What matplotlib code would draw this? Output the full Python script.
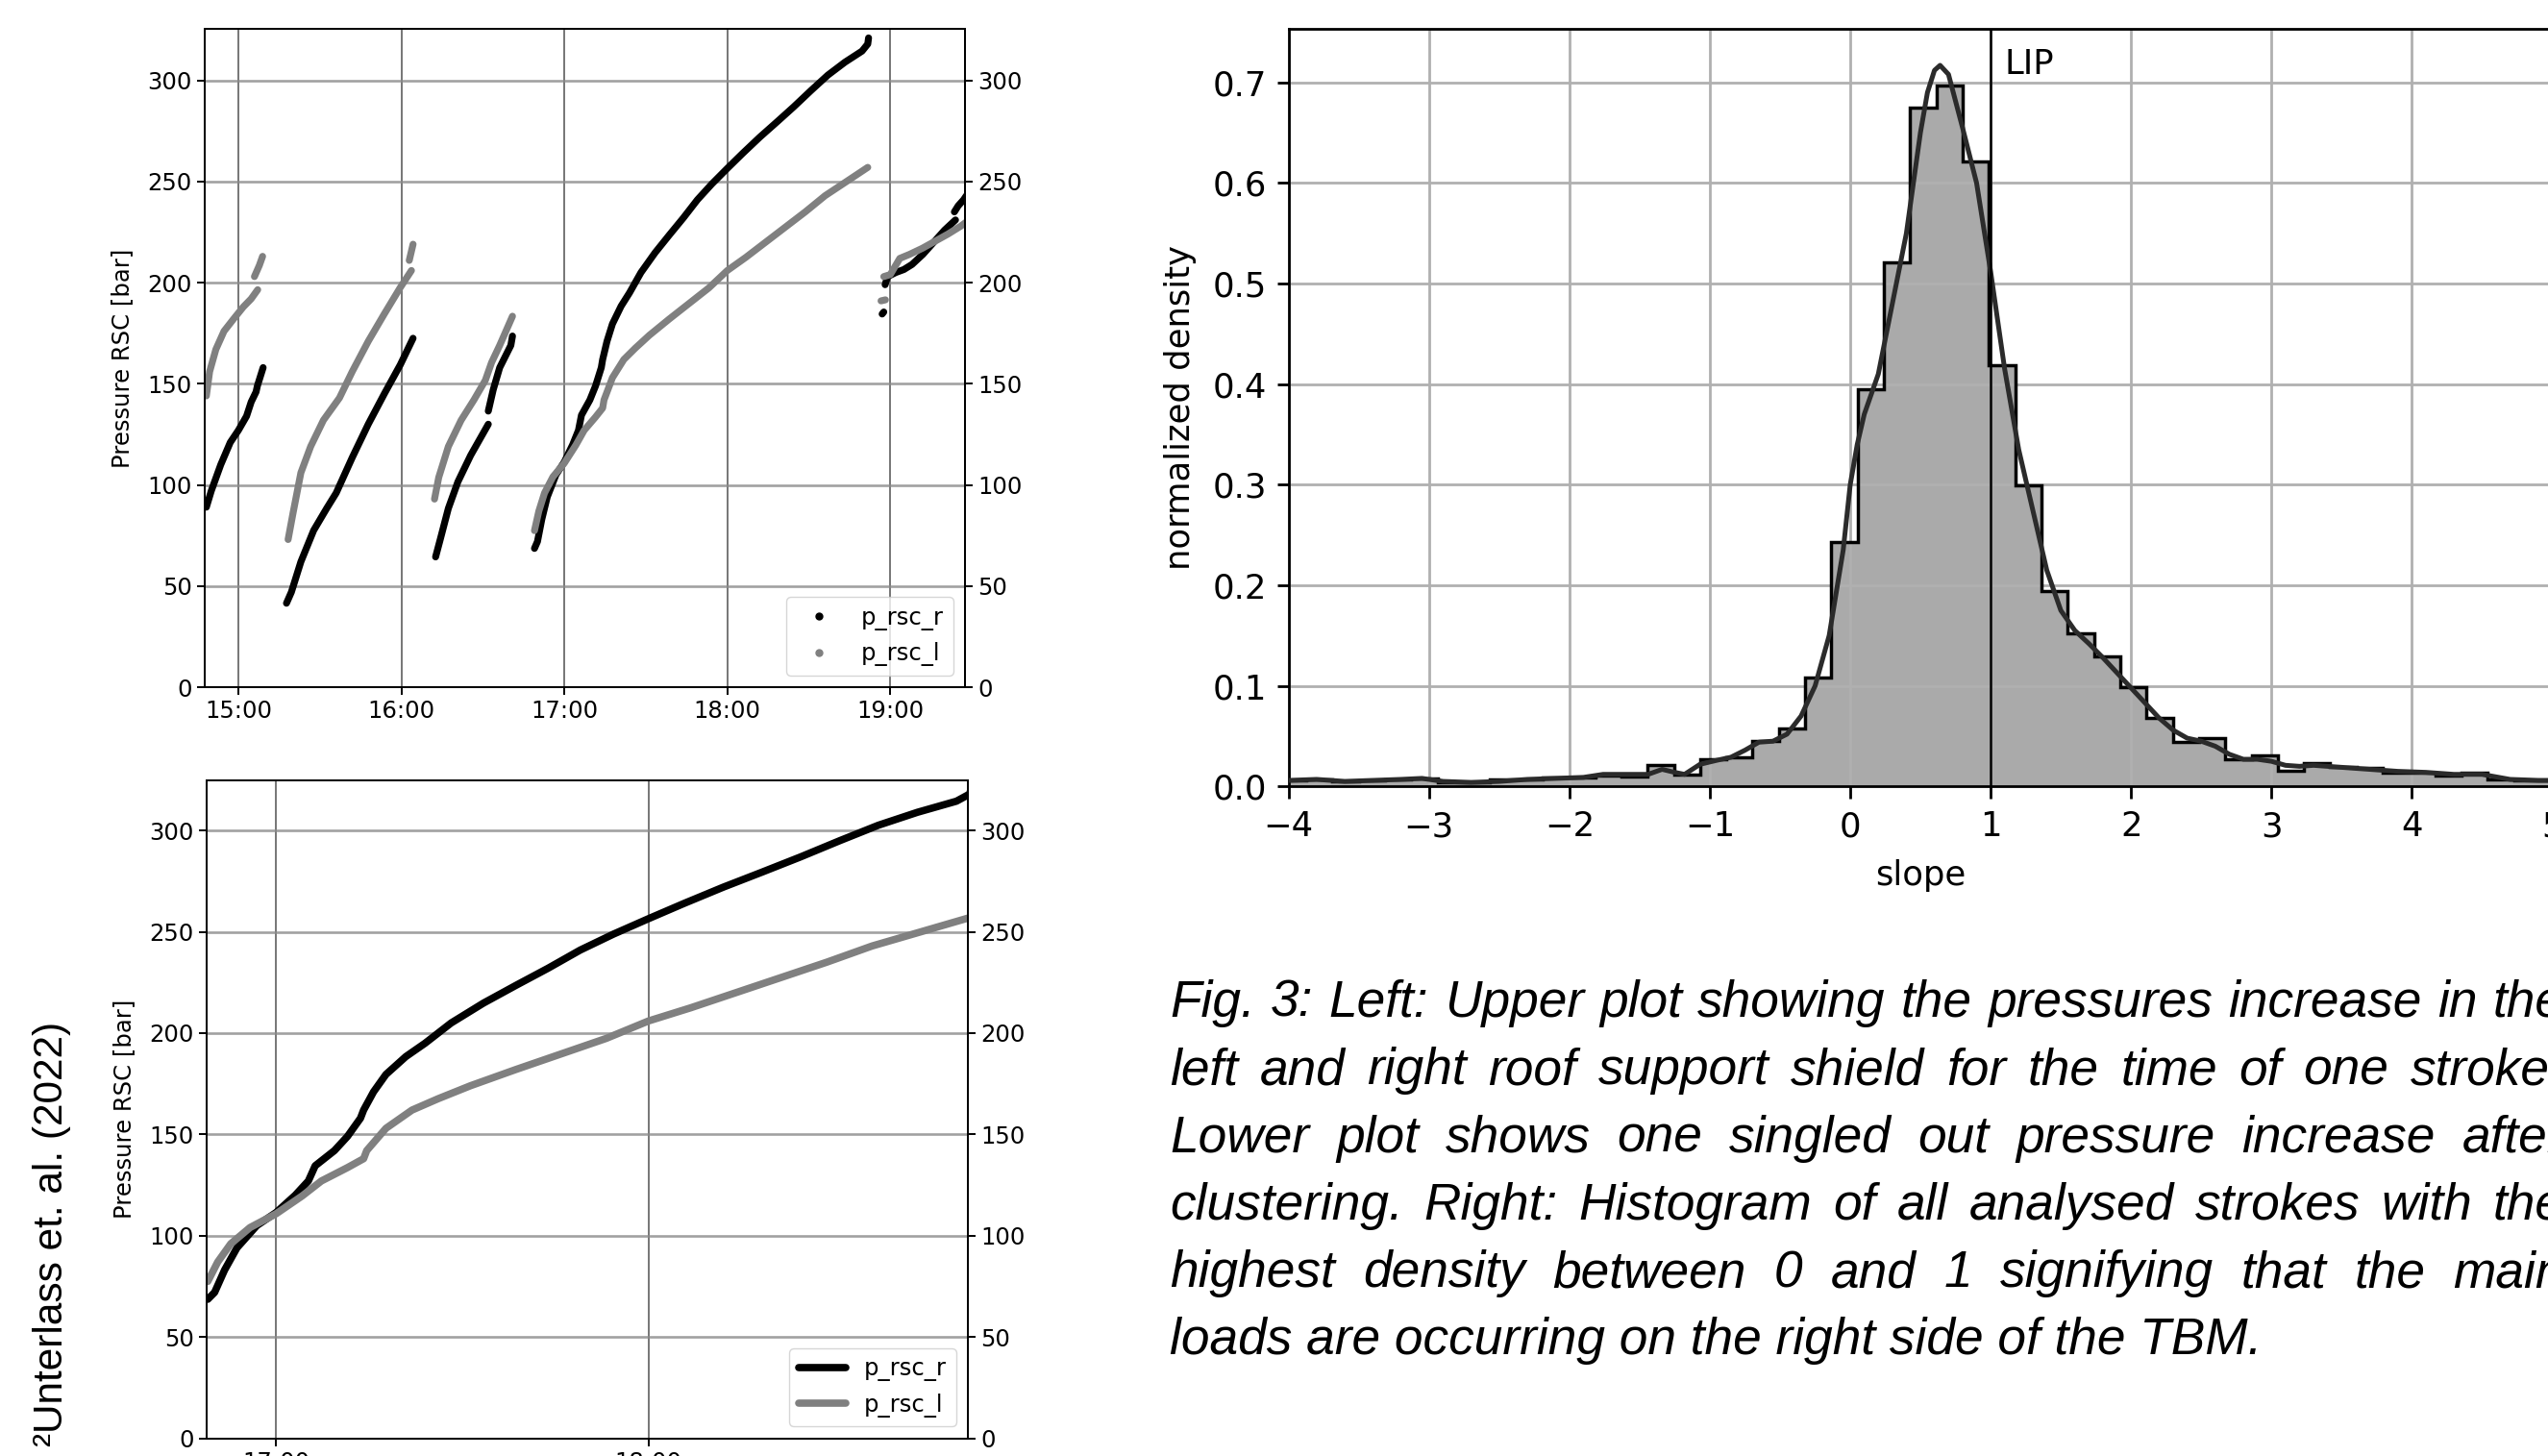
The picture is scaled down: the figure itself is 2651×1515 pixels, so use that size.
import numpy as np
import matplotlib
matplotlib.use("Agg")
import matplotlib.pyplot as plt
import matplotlib.dates as mdates
from matplotlib.lines import Line2D
from datetime import datetime

# ---------------- data ----------------
# right roof support shield pressure (None separates the clusters)
R_TIME = ["14:48:12", "14:50:00", "14:53:30", "14:57:00", "15:00:00", "15:03:00", "15:04:42",
          "15:06:30", "15:07:00", "15:08:24", "15:09:06", None,
          "15:17:42", "15:19:30", "15:23:00", "15:27:42", "15:32:30", "15:36:00", "15:41:54",
          "15:47:48", "15:53:42", "15:59:36", "16:04:18", None,
          "16:12:36", "16:14:18", "16:17:18", "16:20:48", "16:25:30", "16:32:00", None,
          "16:32:00", "16:33:48", "16:36:12", "16:40:18", "16:40:54", None,
          "16:49:00", "16:50:06", "16:51:42", "16:53:42", "16:56:54", "17:00:00", "17:03:06",
          "17:05:12", "17:06:18", "17:09:24", "17:11:30", "17:13:36", "17:14:06", "17:15:42",
          "17:17:42", "17:20:54", "17:24:00", "17:28:12", "17:33:24", "17:38:36", "17:43:48",
          "17:49:00", "17:54:18", "18:00:00", "18:05:42", "18:12:00", "18:18:18", "18:24:30",
          "18:30:48", "18:37:00", "18:43:18", "18:49:36", "18:51:42", "18:52:00", None,
          "18:57:00", "18:57:36", None,
          "18:58:06", "18:59:00", "19:02:00", "19:05:00", "19:08:00", "19:12:00", "19:16:00",
          "19:20:00", "19:24:00", None,
          "19:23:36", "19:25:00", "19:27:00", "19:28:00"]
R_PRES = [89, 97, 110, 121, 127, 134, 141, 146, 149, 155, 158, None,
          41.5, 47, 62, 77.5, 88.4, 96, 113.5, 130, 145, 159.4, 172.5, None,
          64.4, 73, 88.4, 101.5, 114.6, 130, None,
          136.5, 147, 158, 169, 173.6, None,
          68.6, 72, 83, 94, 105, 111.4, 120, 127, 134.5, 142, 149, 158, 162, 171,
          179.6, 188.4, 195, 205, 214.8, 223.5, 232, 241, 248.8, 256.5, 264, 272, 279.5, 287,
          295, 302.6, 309, 314.5, 318, 321, None,
          184.5, 185.5, None,
          199, 203, 205, 206.5, 209, 214, 220, 226, 231, None,
          235, 238, 241, 243]

# left roof support shield pressure
L_TIME = ["14:48:12", "14:49:24", "14:51:42", "14:54:42", "14:58:12", "15:01:48", "15:04:42",
          "15:07:06", None,
          "15:05:54", "15:07:42", "15:08:54", None,
          "15:18:18", "15:20:06", "15:23:00", "15:26:36", "15:31:18", "15:37:12", "15:41:54",
          "15:47:48", "15:53:42", "15:59:36", "16:03:42", None,
          "16:02:54", "16:04:18", None,
          "16:12:12", "16:13:45", "16:17:18", "16:22:00", "16:26:42", "16:30:54", "16:33:12",
          "16:36:12", "16:40:54", None,
          "16:49:00", "16:50:36", "16:52:42", "16:55:48", "17:00:00", "17:04:12", "17:07:18",
          "17:11:30", "17:14:06", "17:14:36", "17:17:42", "17:21:54", "17:26:06", "17:31:18",
          "17:38:36", "17:45:54", "17:53:12", "18:00:00", "18:06:48", "18:14:06", "18:21:24",
          "18:28:42", "18:36:00", "18:43:18", "18:51:42", None,
          "18:56:36", "18:58:12", None,
          "18:57:36", "19:00:00", "19:03:30", "19:07:06", "19:11:48", "19:16:30", "19:21:12",
          "19:26:00", "19:28:00"]
L_PRES = [144, 156, 167, 176, 182, 188, 192, 196.5, None,
          203, 208.5, 213, None,
          73, 86, 106, 119, 132, 143, 156, 171, 184.5, 197.6, 206, None,
          211, 219, None,
          93, 103.7, 119, 132, 142, 151.7, 160.5, 169, 183.4, None,
          77.4, 87, 96, 104, 110.8, 119.6, 127, 133.6, 138, 142, 153, 162, 167.6, 174,
          182, 189.7, 197.4, 206, 212.5, 220, 227.5, 235, 243, 249.5, 257, None,
          191, 191.5, None,
          203, 204, 212, 214, 217, 220.5, 224, 228, 230]

SERIES_LABELS = ["p_rsc_r", "p_rsc_l"]

# histogram of slopes (normalized density per bin)
BIN_START = -4.061
BIN_WIDTH = 0.187
HIST = [0.006, 0.007, 0.005, 0.006, 0.007, 0.008, 0.004, 0.004, 0.007, 0.007,
        0.009, 0.009, 0.011, 0.010, 0.021, 0.012, 0.027, 0.029, 0.045, 0.058,
        0.108, 0.243, 0.395, 0.521, 0.675, 0.697, 0.621, 0.419, 0.299, 0.194,
        0.152, 0.129, 0.099, 0.068, 0.044, 0.048, 0.027, 0.031, 0.016, 0.023,
        0.019, 0.018, 0.014, 0.014, 0.011, 0.014, 0.007, 0.006, 0.006]

KDE_X = [-4.0, -3.8, -3.6, -3.4, -3.2, -3.05, -2.9, -2.7, -2.5, -2.3, -2.1, -1.9, -1.76,
         -1.6, -1.44, -1.34, -1.25, -1.18, -1.07, -0.95, -0.85, -0.75, -0.65, -0.55,
         -0.45, -0.35, -0.25, -0.15, -0.05, 0.0, 0.05, 0.1, 0.2, 0.3, 0.4, 0.5, 0.55,
         0.6, 0.64, 0.7, 0.8, 0.9, 1.0, 1.1, 1.2, 1.3, 1.4, 1.5, 1.6, 1.7, 1.8, 1.9,
         2.0, 2.1, 2.2, 2.3, 2.4, 2.5, 2.6, 2.7, 2.8, 2.9, 3.0, 3.1, 3.2, 3.3, 3.5,
         3.7, 3.9, 4.1, 4.3, 4.5, 4.7, 4.9, 5.1]
KDE_Y = [0.006, 0.007, 0.005, 0.006, 0.007, 0.008, 0.005, 0.004, 0.005, 0.007, 0.008,
         0.009, 0.012, 0.012, 0.012, 0.017, 0.014, 0.012, 0.022, 0.026, 0.029, 0.036,
         0.044, 0.045, 0.052, 0.070, 0.100, 0.150, 0.235, 0.300, 0.340, 0.370, 0.410,
         0.480, 0.550, 0.650, 0.690, 0.712, 0.717, 0.708, 0.655, 0.600, 0.512, 0.415,
         0.335, 0.275, 0.215, 0.175, 0.155, 0.142, 0.128, 0.113, 0.098, 0.083, 0.068,
         0.056, 0.048, 0.045, 0.040, 0.032, 0.027, 0.027, 0.025, 0.021, 0.020, 0.021,
         0.019, 0.017, 0.015, 0.014, 0.012, 0.012, 0.007, 0.006, 0.006]
LIP_X = 1.0

CAPTION_LINES = [
    "Fig. 3: Left: Upper plot showing the pressures increase in the",
    "left and right roof support shield for the time of one stroke.",
    "Lower plot shows one singled out pressure increase after",
    "clustering. Right: Histogram of all analysed strokes with the",
    "highest density between 0 and 1 signifying that the main",
    "loads are occurring on the right side of the TBM.",
]
SIDE_NOTE = "\u00b2Unterlass et. al. (2022)"

# ---------------- helpers ----------------
BASE = mdates.date2num(datetime(2022, 1, 1))


def to_num(ts):
    out = []
    for t in ts:
        if t is None:
            out.append(np.nan)
        else:
            h, m, s = (int(v) for v in t.split(":"))
            out.append(BASE + (h * 3600 + m * 60 + s) / 86400.0)
    return np.array(out)


def to_val(vs):
    return np.array([np.nan if v is None else v for v in vs], dtype=float)


rt, rp = to_num(R_TIME), to_val(R_PRES)
lt, lp = to_num(L_TIME), to_val(L_PRES)

W, H = 2651, 1515
fig = plt.figure(figsize=(W / 100, H / 100), dpi=100)
plt.rcParams['font.family'] = ['DejaVu Sans']

GRAY = '#808080'
FS_L = 17.5


def style_pressure_axes(ax, xlim, ylim):
    ax.set_xlim(*[to_num([x])[0] for x in xlim])
    ax.set_ylim(*ylim)
    ax.set_yticks(np.arange(0, 301, 50))
    ax.xaxis.set_major_locator(mdates.HourLocator())
    ax.xaxis.set_major_formatter(mdates.DateFormatter('%H:%M'))
    ax.tick_params(labelsize=FS_L, length=6, width=1.4)
    for s in ax.spines.values():
        s.set_linewidth(1.4)
    ax.grid(axis='x', color='#333333', lw=1.1, alpha=0.85)
    ax.grid(axis='y', color='#8a8a8a', lw=1.9, alpha=0.8)
    ax.set_ylabel('Pressure RSC [bar]', fontsize=FS_L, labelpad=10)
    axr = ax.twinx()
    axr.set_ylim(*ylim)
    axr.set_yticks(np.arange(0, 301, 50))
    axr.tick_params(labelsize=FS_L, length=6, width=1.4)
    for s in axr.spines.values():
        s.set_linewidth(1.4)
    return axr


# upper-left: all clusters
ax1 = fig.add_axes([213 / W, 1 - 715 / H, 791 / W, 685 / H])
ax1.plot(rt, rp, color='k', lw=5.2, solid_capstyle='round', solid_joinstyle='round')
ax1.plot(lt, lp, color=GRAY, lw=5.2, solid_capstyle='round', solid_joinstyle='round')
style_pressure_axes(ax1, ("14:47:36", "19:27:30"), (0, 325.5))
handles = [Line2D([], [], ls='none', marker='o', ms=5, color='k'),
           Line2D([], [], ls='none', marker='o', ms=5, color=GRAY)]
ax1.legend(handles, SERIES_LABELS, loc='lower right', fontsize=FS_L, handletextpad=0.8)

# lower-left: one singled out pressure increase
ax2 = fig.add_axes([215 / W, 1 - 1496.5 / H, 792 / W, 685 / H])
ax2.plot(rt, rp, color='k', lw=5.5, label=SERIES_LABELS[0], solid_capstyle='round')
ax2.plot(lt, lp, color=GRAY, lw=5.5, label=SERIES_LABELS[1], solid_capstyle='round')
style_pressure_axes(ax2, ("16:48:49", "18:51:26"), (0, 325))
ax2.legend(loc='lower right', fontsize=FS_L)

# right: histogram
FS_H = 25.5
ax3 = fig.add_axes([1340.7 / W, 1 - 818.3 / H, (2655.4 - 1340.7) / W, 788 / H])
edges = BIN_START + BIN_WIDTH * np.arange(len(HIST) + 1)
ax3.stairs(HIST, edges, fill=True, color='#aaaaaa', zorder=1)
ax3.stairs(HIST, edges, color='k', lw=2.5, zorder=2.5)
ax3.plot(KDE_X, KDE_Y, color='#2b2b2b', lw=3.6, zorder=3)
ax3.axvline(LIP_X, color='k', lw=1.8, zorder=4)
ax3.text(LIP_X + 0.1, 0.708, 'LIP', fontsize=FS_H, zorder=5)
ax3.set_xlim(-4, 5)
ax3.set_ylim(0, 0.753)
ax3.set_xticks(np.arange(-4, 6, 1))
ax3.set_yticks(np.arange(0, 0.71, 0.1))
ax3.grid(True, color='#b0b0b0', lw=2.0)
ax3.tick_params(labelsize=FS_H, length=9, width=2.0)
ax3.tick_params(axis='x', pad=9)
ax3.tick_params(axis='y', pad=7)
for s in ax3.spines.values():
    s.set_linewidth(2.0)
ax3.set_xlabel('slope', fontsize=FS_H, labelpad=12)
ax3.set_ylabel('normalized density', fontsize=FS_H, labelpad=12)

# caption (justified)
CFS = 38.3
CAP_FONT = dict(fontsize=CFS, family='Liberation Sans', style='italic')
renderer = fig.canvas.get_renderer()


def text_width(s):
    t = fig.text(0, 0, s, **CAP_FONT)
    w = t.get_window_extent(renderer).width
    t.remove()
    return w


LEFT, RIGHT = 1217, 2668
BASE0, STEP = 1058, 70.3
for i, line in enumerate(CAPTION_LINES):
    y = 1 - (BASE0 + i * STEP) / H
    if i == len(CAPTION_LINES) - 1:
        fig.text(LEFT / W, y, line, va='baseline', **CAP_FONT)
        continue
    words = line.split(' ')
    widths = [text_width(w) for w in words]
    gap = (RIGHT - LEFT - sum(widths)) / (len(words) - 1)
    x = LEFT
    for w, wd in zip(words, widths):
        fig.text(x / W, y, w, va='baseline', **CAP_FONT)
        x += wd + gap

fig.text(54 / W, 1 - 1283.5 / H, SIDE_NOTE, rotation=90, ha='center', va='center',
         fontsize=30.5, family='Liberation Sans')

fig.savefig('out.png', dpi=100)
